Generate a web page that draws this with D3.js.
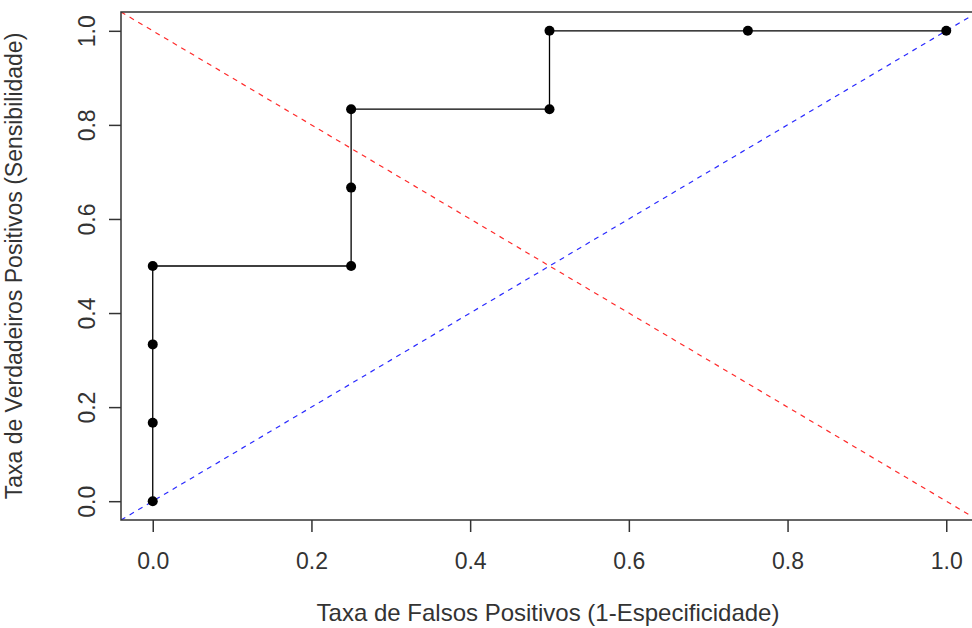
<!DOCTYPE html>
<html>
<head>
<meta charset="utf-8">
<script src="https://cdn.jsdelivr.net/npm/d3@7"></script>
<style>
  body { margin: 0; background: #fff; }
  text { font-family: "Liberation Sans", Arial, sans-serif; fill: #333; }
</style>
</head>
<body>
<div id="chart"></div>
<script>
// ROC points (false positive rate, sensitivity)
const fpr = [0, 0, 0, 0, 0.25, 0.25, 0.25, 0.5, 0.5, 0.75, 1];
const tpr = [0, 1/6, 2/6, 3/6, 3/6, 4/6, 5/6, 5/6, 1, 1, 1];
const ticks = [0, 0.2, 0.4, 0.6, 0.8, 1.0];

const width = 972, height = 628;
const margin = { top: 12, right: -6, bottom: 108, left: 121 };
const fontSize = "23px";

const svg = d3.select("#chart").append("svg")
  .attr("width", width).attr("height", height);

const x = d3.scaleLinear().domain([-0.04, 1.04])
  .range([margin.left, width - margin.right]);
const y = d3.scaleLinear().domain([-0.04, 1.04])
  .range([height - margin.bottom, margin.top]);

// clip for the reference lines
svg.append("clipPath").attr("id", "clip")
  .append("rect")
  .attr("x", x(-0.04)).attr("y", y(1.04))
  .attr("width", x(1.04) - x(-0.04)).attr("height", y(-0.04) - y(1.04));

const pts = fpr.map((d, i) => [d, tpr[i]]);

// diagonal reference lines
const ref = svg.append("g").attr("clip-path", "url(#clip)");
ref.append("line")
  .attr("x1", x(-0.04)).attr("y1", y(1.04))
  .attr("x2", x(1.04)).attr("y2", y(-0.04))
  .attr("stroke", "#ff2a2a").attr("stroke-width", 1.2)
  .attr("stroke-dasharray", "5,5");
ref.append("line")
  .attr("x1", x(-0.04)).attr("y1", y(-0.04))
  .attr("x2", x(1.04)).attr("y2", y(1.04))
  .attr("stroke", "#2a2aff").attr("stroke-width", 1.2)
  .attr("stroke-dasharray", "5,5");

// ROC step line
svg.append("path")
  .datum(pts)
  .attr("fill", "none")
  .attr("stroke", "#000")
  .attr("stroke-width", 1.3)
  .attr("d", d3.line().x(d => x(d[0])).y(d => y(d[1])));

svg.append("g").selectAll("circle")
  .data(pts)
  .join("circle")
  .attr("cx", d => x(d[0]))
  .attr("cy", d => y(d[1]))
  .attr("r", 5)
  .attr("fill", "#000");

// plot box
svg.append("rect")
  .attr("x", x(-0.04)).attr("y", y(1.04))
  .attr("width", x(1.04) - x(-0.04)).attr("height", y(-0.04) - y(1.04))
  .attr("fill", "none").attr("stroke", "#333").attr("stroke-width", 1.5);

// axes
const xAxis = svg.append("g")
  .attr("transform", `translate(0,${y(-0.04)})`)
  .call(d3.axisBottom(x).tickValues(ticks).tickFormat(d3.format(".1f"))
    .tickSize(12).tickPadding(21));
xAxis.select(".domain").remove();

const yAxis = svg.append("g")
  .attr("transform", `translate(${x(-0.04)},0)`)
  .call(d3.axisLeft(y).tickValues(ticks).tickFormat(d3.format(".1f"))
    .tickSize(12).tickPadding(0));
yAxis.select(".domain").remove();

svg.selectAll(".tick line").attr("stroke", "#333").attr("stroke-width", 1.5);
xAxis.selectAll("text").style("font-size", fontSize).attr("fill", "#333");
yAxis.selectAll("text")
  .style("font-size", fontSize).attr("fill", "#333")
  .attr("text-anchor", "middle")
  .attr("x", 0).attr("dy", 0)
  .attr("transform", "translate(-34,0) rotate(-90)")
  .attr("y", 0)
  .attr("dominant-baseline", "central");

// titles
svg.append("text")
  .attr("x", 548).attr("y", 621)
  .attr("text-anchor", "middle")
  .style("font-size", "24px")
  .text("Taxa de Falsos Positivos (1-Especificidade)");

svg.append("text")
  .attr("transform", `translate(22,${(y(0) + y(1)) / 2}) rotate(-90)`)
  .attr("text-anchor", "middle")
  .style("font-size", fontSize)
  .text("Taxa de Verdadeiros Positivos (Sensibilidade)");
</script>
</body>
</html>
